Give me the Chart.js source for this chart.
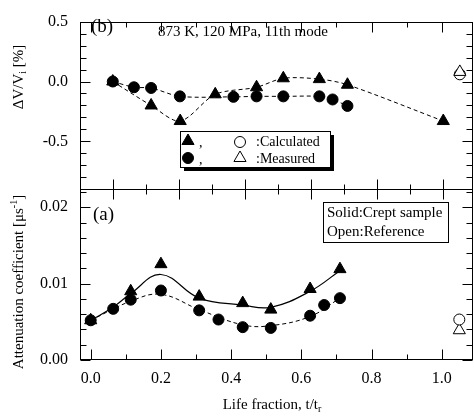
<!DOCTYPE html>
<html>
<head>
<meta charset="utf-8">
<script src="https://cdn.jsdelivr.net/npm/chart.js@4.4.1/dist/chart.umd.min.js"></script>
<style>
  html, body { margin: 0; padding: 0; background: #fff; overflow: hidden; }
  canvas { display: block; }
</style>
</head>
<body>
<canvas id="chart" width="474" height="417"></canvas>
<script>
// (b) top panel: velocity change, 11th mode
const lifeTriB = [0, 0.116, 0.204, 0.31, 0.435, 0.516, 0.625, 0.71, 1.0];
const dvCalculated = [0.0, -0.2, -0.33, -0.107, -0.048, 0.027, 0.02, -0.027, -0.33];
const lifeCirB = [0, 0.064, 0.116, 0.203, 0.365, 0.435, 0.516, 0.625, 0.665, 0.71];
const dvMeasured = [0.0, -0.048, -0.054, -0.124, -0.128, -0.124, -0.124, -0.124, -0.15, -0.204];
const refLifeB = [1.05];
const dvRefCalculated = [0.08];
const dvRefMeasured = [0.06];

// (a) bottom panel: attenuation coefficient
const lifeTriA = [0, 0.114, 0.2, 0.309, 0.433, 0.513, 0.625, 0.71];
const attCalculated = [0.0052, 0.0090, 0.01255, 0.0083, 0.00745, 0.0066, 0.0093, 0.0119];
const lifeCirA = [0, 0.064, 0.114, 0.2, 0.309, 0.364, 0.433, 0.513, 0.625, 0.665, 0.71];
const attMeasured = [0.0052, 0.0067, 0.0079, 0.0091, 0.0065, 0.0053, 0.0043, 0.0042, 0.0058, 0.0072, 0.0081];
const refLifeA = [1.05];
const attRefMeasured = [0.0053];
const attRefCalculated = [0.0039];

// fitted curves
const fitLifeSolid = [0, 0.06, 0.114, 0.2, 0.309, 0.433, 0.513, 0.625, 0.71];
const fitSolid = [0.0052, 0.0068, 0.0087, 0.0112, 0.0081, 0.0072, 0.0069, 0.0090, 0.0117];
const fitLifeDash = [0, 0.114, 0.2, 0.309, 0.433, 0.513, 0.625, 0.71];
const fitDash = [0.0052, 0.0077, 0.0086, 0.0066, 0.0046, 0.0045, 0.0057, 0.0081];

const xTickLabels = [0, 0.2, 0.4, 0.6, 0.8, 1.0];
const yTicksB = [-0.5, 0, 0.5];
const yTicksA = [0, 0.01, 0.02];

const SERIF = '"Liberation Serif", "Times New Roman", serif';
Chart.defaults.font.family = SERIF;
Chart.defaults.color = '#000';

function pts(xs, ys) {
  return xs.map((x, i) => ({ x: x, y: ys[i] }));
}

function marks(xs, ys, style, filled, r, xAxis, yAxis) {
  return {
    data: pts(xs, ys), xAxisID: xAxis, yAxisID: yAxis, showLine: false, order: 0,
    pointStyle: style, pointRadius: r, pointBorderWidth: 1,
    pointBackgroundColor: filled ? '#000' : '#fff', pointBorderColor: '#000'
  };
}

function curve(xs, ys, dash, width, tension, xAxis, yAxis) {
  return {
    data: pts(xs, ys), xAxisID: xAxis, yAxisID: yAxis, showLine: true, order: 1,
    pointRadius: 0, borderColor: '#000', borderWidth: width, borderDash: dash, tension: tension
  };
}

function steps(from, to, step) {
  const out = [];
  const n = Math.round((to - from) / step);
  for (let i = 0; i <= n; i++) out.push(+(from + i * step).toFixed(4));
  return out;
}

function richText(ctx, parts, cx, cy, rot, size) {
  ctx.save();
  ctx.translate(cx, cy);
  ctx.rotate(rot);
  let w = 0;
  parts.forEach(p => {
    ctx.font = (p.s || size) + 'px ' + SERIF;
    w += ctx.measureText(p.t).width;
  });
  let x = -w / 2;
  ctx.textAlign = 'left';
  ctx.textBaseline = 'middle';
  parts.forEach(p => {
    ctx.font = (p.s || size) + 'px ' + SERIF;
    ctx.fillText(p.t, x, p.dy || 0);
    x += ctx.measureText(p.t).width;
  });
  ctx.restore();
}

function seg(ctx, x1, y1, x2, y2) {
  ctx.beginPath();
  ctx.moveTo(x1, y1);
  ctx.lineTo(x2, y2);
  ctx.stroke();
}

const framePlugin = {
  id: 'frame',
  afterDraw(chart) {
    const ctx = chart.ctx;
    const a = chart.chartArea;
    const s = chart.scales;
    const mid = Math.round(s.yb.bottom) + 0.5;
    const L = Math.round(a.left) + 0.5, R = Math.round(a.right) - 0.5;
    const T = Math.round(a.top) + 0.5, B = Math.round(a.bottom) - 0.5;
    ctx.save();
    ctx.strokeStyle = '#000';
    ctx.fillStyle = '#000';
    ctx.lineWidth = 1;
    ctx.strokeRect(L, T, R - L, B - T);
    seg(ctx, L, mid, R, mid);

    // inward ticks on left and right
    const yTicks = (scale, vals, majors) => {
      vals.forEach(v => {
        const y = Math.round(scale.getPixelForValue(v)) + 0.5;
        const len = majors.some(m => Math.abs(m - v) < 1e-9) ? 10 : 6;
        seg(ctx, L, y, L + len, y);
        seg(ctx, R, y, R - len, y);
      });
    };
    yTicks(s.yb, steps(-0.8, 0.5, 0.1), yTicksB);
    yTicks(s.ya, steps(0, 0.022, 0.002), yTicksA);

    // top and bottom edges follow the lower scale
    steps(0, 1.0, 0.1).forEach((v, i) => {
      const x = Math.round(s.x.getPixelForValue(v)) + 0.5;
      const len = i % 2 === 0 ? 10 : 5;
      seg(ctx, x, T, x, T + len);
      seg(ctx, x, B, x, B - len);
    });
    // middle line follows the upper panel scale
    steps(0, 1.0, 0.1).forEach((v, i) => {
      const x = Math.round(s.x2.getPixelForValue(v)) + 0.5;
      const len = i % 2 === 0 ? 10 : 5;
      seg(ctx, x, mid - len, x, mid + len);
    });

    // legend box with drop shadow
    const lb = { x: 180, y: 131, w: 150, h: 36 };
    ctx.fillStyle = '#000';
    ctx.fillRect(lb.x + 4, lb.y + 4, lb.w, lb.h);
    ctx.fillStyle = '#fff';
    ctx.fillRect(lb.x, lb.y, lb.w, lb.h);
    ctx.strokeRect(lb.x + 0.5, lb.y + 0.5, lb.w, lb.h);
    const sym = (style, filled, r, x, y) => {
      ctx.fillStyle = filled ? '#000' : '#fff';
      ctx.strokeStyle = '#000';
      ctx.lineWidth = 1;
      Chart.helpers.drawPoint(ctx, { pointStyle: style, radius: r, borderWidth: 1, rotation: 0 }, x, y);
    };
    sym('triangle', true, 7, 188, 141);
    sym('circle', false, 5.5, 240, 142);
    sym('circle', true, 5.5, 188, 158);
    sym('triangle', false, 7, 240, 158);
    ctx.fillStyle = '#000';
    ctx.textBaseline = 'middle';
    ctx.textAlign = 'left';
    ctx.font = '14px ' + SERIF;
    ctx.fillText(',', 199, 143);
    ctx.fillText(',', 199, 160);
    ctx.fillText(':Calculated', 256, 142);
    ctx.fillText(':Measured', 256, 159);

    // panel labels
    ctx.font = '19px ' + SERIF;
    ctx.fillText('(b)', 91, 27);
    ctx.fillText('(a)', 93, 215);
    ctx.font = '15px ' + SERIF;
    ctx.fillText('873 K, 120 MPa, 11th mode', 158, 32);

    // solid/open note box
    ctx.fillStyle = '#fff';
    ctx.fillRect(323, 202, 125, 40);
    ctx.strokeRect(323.5, 202.5, 125, 40);
    ctx.fillStyle = '#000';
    ctx.fillText('Solid:Crept sample', 327, 213);
    ctx.fillText('Open:Reference', 327, 232);

    // axis titles
    richText(ctx, [{ t: 'ΔV/V' }, { t: 'i', s: 10, dy: 4 }, { t: ' [%]' }], 19, 77, -Math.PI / 2, 15);
    richText(ctx, [{ t: 'Attenuation coefficient [μs' }, { t: '-1', s: 10, dy: -5 }, { t: ']' }], 19, 282, -Math.PI / 2, 15);
    richText(ctx, [{ t: 'Life fraction, t/t' }, { t: 'r', s: 10, dy: 4 }], 272, 405, 0, 15);
    ctx.restore();
  }
};

new Chart(document.getElementById('chart'), {
  type: 'scatter',
  data: {
    datasets: [
      marks(lifeTriB, dvCalculated, 'triangle', true, 7, 'x2', 'yb'),
      marks(lifeCirB, dvMeasured, 'circle', true, 5.5, 'x2', 'yb'),
      marks(refLifeB, dvRefCalculated, 'triangle', false, 7, 'x2', 'yb'),
      marks(refLifeB, dvRefMeasured, 'circle', false, 5.5, 'x2', 'yb'),
      marks(lifeTriA, attCalculated, 'triangle', true, 7, 'x', 'ya'),
      marks(lifeCirA, attMeasured, 'circle', true, 5.5, 'x', 'ya'),
      marks(refLifeA, attRefMeasured, 'circle', false, 5.5, 'x', 'ya'),
      marks(refLifeA, attRefCalculated, 'triangle', false, 7, 'x', 'ya'),
      curve(lifeTriB, dvCalculated, [4, 3], 1, 0.3, 'x2', 'yb'),
      curve(lifeCirB, dvMeasured, [4, 3], 1, 0.3, 'x2', 'yb'),
      curve(fitLifeSolid, fitSolid, [], 1.2, 0.4, 'x', 'ya'),
      curve(fitLifeDash, fitDash, [4, 3], 1, 0.4, 'x', 'ya')
    ]
  },
  options: {
    responsive: false,
    animation: false,
    layout: { autoPadding: false, padding: { top: 13, right: 1, left: 0, bottom: 0 } },
    plugins: { legend: { display: false }, tooltip: { enabled: false } },
    scales: {
      x: {
        type: 'linear', axis: 'x', position: 'bottom', min: -0.0305, max: 1.089,
        afterBuildTicks: sc => { sc.ticks = xTickLabels.map(v => ({ value: v })); },
        afterFit: sc => { sc.height = 57; },
        grid: { display: false, drawTicks: false },
        border: { display: false },
        ticks: { font: { size: 16 }, padding: 9, maxRotation: 0, callback: v => v.toFixed(1) }
      },
      x2: { type: 'linear', axis: 'x', display: false, min: -0.0992, max: 1.0899 },
      ya: {
        type: 'linear', axis: 'y', position: 'left', stack: 'panels', stackWeight: 175,
        min: 0, max: 0.02235,
        afterBuildTicks: sc => { sc.ticks = yTicksA.map(v => ({ value: v })); },
        afterFit: sc => { sc.width = 80; },
        grid: { display: false, drawTicks: false },
        border: { display: false },
        ticks: { font: { size: 16 }, padding: 12, callback: v => v.toFixed(2) }
      },
      yb: {
        type: 'linear', axis: 'y', position: 'left', stack: 'panels', stackWeight: 172,
        min: -0.9, max: 0.5,
        afterBuildTicks: sc => { sc.ticks = yTicksB.map(v => ({ value: v })); },
        afterFit: sc => { sc.width = 80; },
        grid: { display: false, drawTicks: false },
        border: { display: false },
        ticks: { font: { size: 16 }, padding: 12, callback: v => v.toFixed(1) }
      }
    }
  },
  plugins: [framePlugin]
});
</script>
</body>
</html>
